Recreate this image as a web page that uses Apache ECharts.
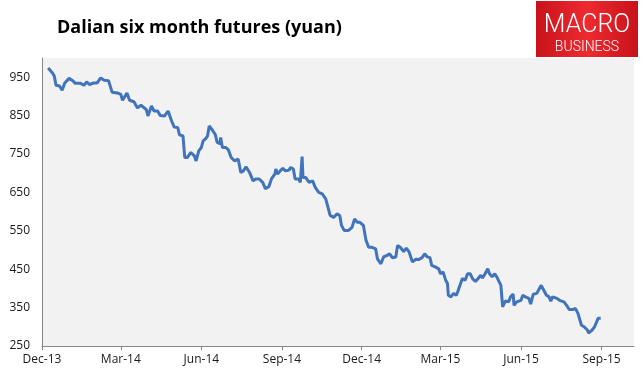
<!DOCTYPE html>
<html>
<head>
<meta charset="utf-8">
<script src="https://cdn.jsdelivr.net/npm/echarts@6/dist/echarts.min.js"></script>
<style>
  html, body { margin: 0; padding: 0; background: #fff; }
  #main { width: 644px; height: 377px; }
</style>
</head>
<body>
<div id="main"></div>
<script>
// Dalian iron ore six month futures (yuan)
var dates = [
  '2013-12-08', '2013-12-13', '2013-12-15', '2013-12-17', '2013-12-21', '2013-12-24', '2013-12-27',
  '2014-01-01', '2014-01-05', '2014-01-08', '2014-01-14', '2014-01-18', '2014-01-21', '2014-01-24',
  '2014-01-29', '2014-02-02', '2014-02-06', '2014-02-10', '2014-02-15', '2014-02-19', '2014-02-25',
  '2014-03-01', '2014-03-03', '2014-03-08', '2014-03-11', '2014-03-16', '2014-03-20', '2014-03-24',
  '2014-03-30', '2014-04-01', '2014-04-05', '2014-04-08', '2014-04-12', '2014-04-15', '2014-04-20',
  '2014-04-24', '2014-04-28', '2014-05-01', '2014-05-05', '2014-05-07', '2014-05-11', '2014-05-13',
  '2014-05-16', '2014-05-20', '2014-05-24', '2014-05-26', '2014-05-29', '2014-06-01', '2014-06-03',
  '2014-06-06', '2014-06-08', '2014-06-10', '2014-06-13', '2014-06-17', '2014-06-19', '2014-06-22',
  '2014-06-23', '2014-06-25', '2014-06-29', '2014-07-02', '2014-07-05', '2014-07-09', '2014-07-13',
  '2014-07-16', '2014-07-19', '2014-07-22', '2014-07-26', '2014-07-30', '2014-08-02', '2014-08-06',
  '2014-08-10', '2014-08-13', '2014-08-17', '2014-08-20', '2014-08-24', '2014-08-25', '2014-08-27',
  '2014-08-30', '2014-09-02', '2014-09-05', '2014-09-09', '2014-09-11', '2014-09-14', '2014-09-16',
  '2014-09-20', '2014-09-22', '2014-09-24', '2014-09-25', '2014-09-28', '2014-10-02', '2014-10-06',
  '2014-10-09', '2014-10-13', '2014-10-17', '2014-10-21', '2014-10-23', '2014-10-26', '2014-10-30',
  '2014-11-03', '2014-11-06', '2014-11-08', '2014-11-11', '2014-11-16', '2014-11-20', '2014-11-23',
  '2014-11-26', '2014-11-29', '2014-12-03', '2014-12-06', '2014-12-09', '2014-12-13', '2014-12-17',
  '2014-12-19', '2014-12-23', '2014-12-26', '2014-12-30', '2015-01-02', '2015-01-05', '2015-01-09',
  '2015-01-11', '2015-01-14', '2015-01-18', '2015-01-21', '2015-01-24', '2015-01-28', '2015-02-01',
  '2015-02-04', '2015-02-08', '2015-02-11', '2015-02-14', '2015-02-17', '2015-02-19', '2015-02-23',
  '2015-02-27', '2015-03-01', '2015-03-04', '2015-03-07', '2015-03-09', '2015-03-10', '2015-03-13',
  '2015-03-16', '2015-03-19', '2015-03-21', '2015-03-24', '2015-03-26', '2015-03-29', '2015-04-01',
  '2015-04-04', '2015-04-07', '2015-04-10', '2015-04-13', '2015-04-16', '2015-04-18', '2015-04-21',
  '2015-04-24', '2015-04-26', '2015-04-29', '2015-05-02', '2015-05-05', '2015-05-09', '2015-05-11',
  '2015-05-14', '2015-05-18', '2015-05-20', '2015-05-23', '2015-05-24', '2015-05-27', '2015-06-01',
  '2015-06-03', '2015-06-06', '2015-06-10', '2015-06-12', '2015-06-15', '2015-06-19', '2015-06-24',
  '2015-06-27', '2015-06-30', '2015-07-03', '2015-07-05', '2015-07-07', '2015-07-09', '2015-07-12',
  '2015-07-15', '2015-07-20', '2015-07-23', '2015-07-26', '2015-07-30', '2015-08-02', '2015-08-05',
  '2015-08-07', '2015-08-09', '2015-08-12', '2015-08-16', '2015-08-17', '2015-08-21', '2015-08-24',
  '2015-08-26', '2015-08-28', '2015-08-31'
];
var prices = [
  974, 961, 953, 929, 927, 916, 935,
  947, 941, 934, 934, 929, 938, 931,
  935, 935, 948, 942, 941, 911, 909,
  905, 890, 909, 890, 886, 870, 877,
  866, 849, 875, 862, 862, 850, 849,
  862, 836, 820, 819, 800, 797, 741,
  741, 754, 745, 732, 758, 767, 784,
  790, 797, 823, 814, 800, 780, 777,
  793, 767, 767, 760, 741, 732, 737,
  702, 706, 717, 702, 680, 685, 685,
  676, 660, 665, 685, 698, 711, 698,
  706, 713, 706, 708, 715, 711, 685,
  685, 676, 743, 689, 689, 676, 680,
  663, 650, 646, 633, 616, 590, 585,
  594, 590, 564, 551, 551, 559, 581,
  572, 572, 564, 525, 507, 507, 503,
  477, 464, 482, 486, 490, 480, 482,
  512, 507, 496, 505, 496, 469, 476,
  475, 480, 490, 482, 480, 460, 456,
  451, 438, 443, 421, 413, 382, 378,
  387, 382, 393, 413, 426, 421, 438,
  438, 424, 418, 426, 434, 427, 438,
  451, 438, 430, 438, 427, 408, 352,
  367, 365, 378, 385, 356, 365, 369,
  382, 378, 374, 359, 385, 387, 408,
  395, 382, 378, 367, 378, 378, 374,
  369, 365, 356, 345, 345, 348, 335,
  333, 304, 300, 291, 284, 291, 300,
  304, 322, 322
];
var quarterTicks = ['2013-12-01', '2014-03-01', '2014-06-01', '2014-09-01', '2014-12-01',
  '2015-03-01', '2015-06-01', '2015-09-01'];
var monthNames = ['Jan', 'Feb', 'Mar', 'Apr', 'May', 'Jun', 'Jul', 'Aug', 'Sep', 'Oct', 'Nov', 'Dec'];

function toTime(s) {
  var p = s.split('-');
  return new Date(+p[0], +p[1] - 1, +p[2]).getTime();
}

var seriesData = dates.map(function (d, i) {
  return [toTime(d), prices[i]];
});
var tickTimes = quarterTicks.map(toTime);

var chart = echarts.init(document.getElementById('main'), null, { renderer: 'canvas' });

var labelFont = { color: '#1a1a1a', fontSize: 12, fontFamily: 'Open Sans' };

var option = {
  animation: false,
  backgroundColor: '#ffffff',
  grid: {
    left: 42,
    right: 10,
    top: 58,
    bottom: 31,
    show: true,
    backgroundColor: '#f2f2f2',
    borderWidth: 0
  },
  // value axis holding timestamps, so the quarter ticks can be placed by hand
  xAxis: {
    type: 'value',
    min: toTime('2013-12-01'),
    max: toTime('2015-10-08'),
    axisLine: { lineStyle: { color: '#868686', width: 1 } },
    axisTick: {
      show: true,
      length: 4,
      customValues: tickTimes,
      lineStyle: { color: '#868686' }
    },
    axisLabel: Object.assign({
      customValues: tickTimes,
      margin: 8,
      formatter: function (v) {
        var d = new Date(v);
        return monthNames[d.getMonth()] + '-' + String(d.getFullYear()).slice(2);
      }
    }, labelFont),
    splitLine: { show: false }
  },
  yAxis: {
    type: 'value',
    min: 250,
    max: 1000,
    interval: 100,
    axisLine: { show: true, lineStyle: { color: '#868686', width: 1 } },
    axisTick: { show: false },
    axisLabel: Object.assign({ margin: 12, showMaxLabel: false }, labelFont),
    splitLine: { show: false }
  },
  series: [{
    type: 'line',
    data: seriesData,
    showSymbol: false,
    lineStyle: { color: '#4174ba', width: 3 },
    itemStyle: { color: '#4174ba' }
  }],
  graphic: [
    {
      type: 'text',
      left: 57,
      top: 19,
      style: {
        text: 'Dalian six month futures (yuan)',
        fill: '#000',
        font: 'bold 18px "Open Sans"'
      }
    },
    {
      type: 'rect',
      shape: { x: 536, y: 1, width: 102, height: 56 },
      style: {
        fill: new echarts.graphic.LinearGradient(0, 0, 1, 0, [
          { offset: 0, color: '#c8121b' },
          { offset: 0.5, color: '#ee2a2f' },
          { offset: 1, color: '#c8121b' }
        ])
      }
    },
    {
      type: 'text',
      x: 587,
      y: 26,
      style: {
        text: 'MACRO',
        fill: '#fff',
        font: '300 25px Roboto',
        align: 'center',
        verticalAlign: 'middle'
      }
    },
    {
      type: 'text',
      x: 587,
      y: 47,
      style: {
        text: 'BUSINESS',
        fill: '#fff',
        font: '300 14px Roboto',
        align: 'center',
        verticalAlign: 'middle'
      }
    }
  ]
};

chart.setOption(option);
</script>
</body>
</html>
